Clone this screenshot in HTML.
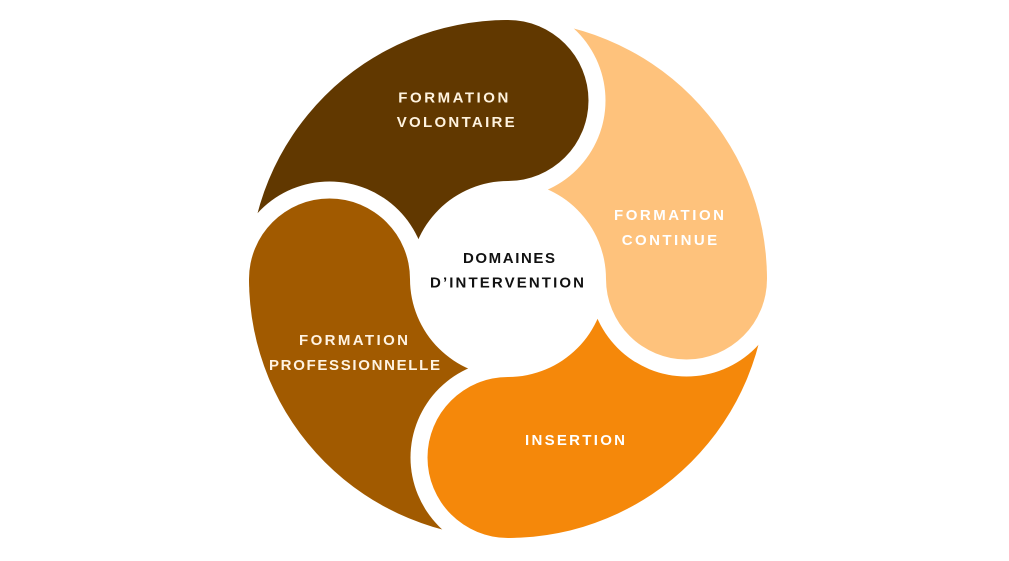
<!DOCTYPE html>
<html>
<head>
<meta charset="utf-8">
<style>
  html, body { margin: 0; padding: 0; background: #ffffff; }
  body { width: 1009px; height: 561px; overflow: hidden; }
  svg { display: block; }
  text { font-family: "Liberation Sans", "DejaVu Sans", sans-serif; font-weight: bold; font-size: 15px; }
</style>
</head>
<body>
<svg width="1009" height="561" viewBox="0 0 1009 561" xmlns="http://www.w3.org/2000/svg">
  <defs>
    <!-- Dark petal: head up -->
    <mask id="mDark" maskUnits="userSpaceOnUse" x="0" y="0" width="1009" height="561">
      <rect x="0" y="0" width="1009" height="561" fill="#000"/>
      <path d="M 249 279 A 259 259 0 0 1 508 20 L 508 181 A 98 98 0 0 0 410 279 Z" fill="#fff"/>
      <circle cx="508" cy="100.5" r="80.5" fill="#fff"/>
      <circle cx="329.5" cy="279" r="97.5" fill="#000"/>
    </mask>
    <!-- Peach petal: head right -->
    <mask id="mPeach" maskUnits="userSpaceOnUse" x="0" y="0" width="1009" height="561">
      <rect x="0" y="0" width="1009" height="561" fill="#000"/>
      <path d="M 508 20 A 259 259 0 0 1 767 279 L 606 279 A 98 98 0 0 0 508 181 Z" fill="#fff"/>
      <circle cx="686.5" cy="279" r="80.5" fill="#fff"/>
      <circle cx="508" cy="100.5" r="97.5" fill="#000"/>
    </mask>
    <!-- Orange petal: head down -->
    <mask id="mOrange" maskUnits="userSpaceOnUse" x="0" y="0" width="1009" height="561">
      <rect x="0" y="0" width="1009" height="561" fill="#000"/>
      <path d="M 767 279 A 259 259 0 0 1 508 538 L 508 377 A 98 98 0 0 0 606 279 Z" fill="#fff"/>
      <circle cx="508" cy="457.5" r="80.5" fill="#fff"/>
      <circle cx="686.5" cy="279" r="97.5" fill="#000"/>
    </mask>
    <!-- Pro petal: head left -->
    <mask id="mPro" maskUnits="userSpaceOnUse" x="0" y="0" width="1009" height="561">
      <rect x="0" y="0" width="1009" height="561" fill="#000"/>
      <path d="M 508 538 A 259 259 0 0 1 249 279 L 410 279 A 98 98 0 0 0 508 377 Z" fill="#fff"/>
      <circle cx="329.5" cy="279" r="80.5" fill="#fff"/>
      <circle cx="508" cy="457.5" r="97.5" fill="#000"/>
    </mask>
  </defs>

  <rect x="0" y="0" width="1009" height="561" fill="#ffffff"/>

  <rect x="0" y="0" width="1009" height="561" fill="#613800" mask="url(#mDark)"/>
  <rect x="0" y="0" width="1009" height="561" fill="#fec27c" mask="url(#mPeach)"/>
  <rect x="0" y="0" width="1009" height="561" fill="#f5880a" mask="url(#mOrange)"/>
  <rect x="0" y="0" width="1009" height="561" fill="#a15a00" mask="url(#mPro)"/>

  <!-- Labels -->
  <text x="398.3" y="102.5" textLength="110" lengthAdjust="spacing" fill="#fff3df">FORMATION</text>
  <text x="396.7" y="127" textLength="118" lengthAdjust="spacing" fill="#fff3df">VOLONTAIRE</text>

  <text x="614" y="220" textLength="110" lengthAdjust="spacing" fill="#ffffff">FORMATION</text>
  <text x="621.7" y="245" textLength="95.5" lengthAdjust="spacing" fill="#ffffff">CONTINUE</text>

  <text x="463" y="263" textLength="92" lengthAdjust="spacing" fill="#111111">DOMAINES</text>
  <text x="430" y="287.3" textLength="154" lengthAdjust="spacing" fill="#111111">D’INTERVENTION</text>

  <text x="299" y="345" textLength="109" lengthAdjust="spacing" fill="#fff3e2">FORMATION</text>
  <text x="269" y="370" textLength="171" lengthAdjust="spacing" fill="#fff3e2">PROFESSIONNELLE</text>

  <text x="525" y="445" textLength="100" lengthAdjust="spacing" fill="#ffffff">INSERTION</text>
</svg>
</body>
</html>
